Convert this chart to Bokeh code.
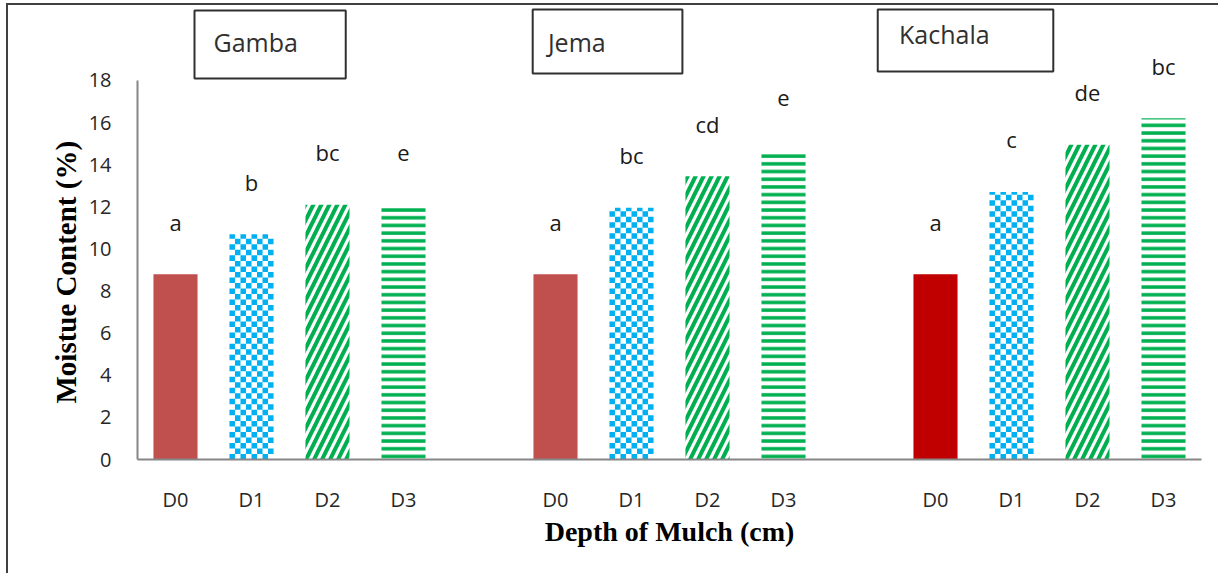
import math
from bokeh.plotting import figure
from bokeh.models import Range1d, FixedTicker, BoxAnnotation, ColumnDataSource
from bokeh.core.properties import value
from bokeh.embed import file_html
from bokeh.resources import INLINE

# ---------------- data ----------------
sites = ["Gamba", "Jema", "Kachala"]
depths = ["D0", "D1", "D2", "D3"]
gamba = [8.8, 10.7, 12.1, 12.05]
jema = [8.8, 11.95, 13.45, 14.65]
kachala = [8.8, 12.7, 14.95, 16.2]
gamba_letters = ["a", "b", "bc", "e"]
jema_letters = ["a", "bc", "cd", "e"]
kachala_letters = ["a", "c", "de", "bc"]
y_ticks = [0, 2, 4, 6, 8, 10, 12, 14, 16, 18]
x_title = "Depth of Mulch (cm)"
y_title = "Moistue Content (%)"

values = [gamba, jema, kachala]
letters = [gamba_letters, jema_letters, kachala_letters]

# ---------------- layout helpers ----------------
SLOTS_PER_GROUP = len(depths) + 1
xs, tops, labs, grp, dep = [], [], [], [], []
for g, (vals, lets) in enumerate(zip(values, letters)):
    for i, (v, l) in enumerate(zip(vals, lets)):
        xs.append(g * SLOTS_PER_GROUP + i + 0.5)
        tops.append(v)
        labs.append(l)
        grp.append(g)
        dep.append(i)

p = figure(width=1212, height=570, output_backend="svg", toolbar_location=None,
           x_range=Range1d(0, SLOTS_PER_GROUP * len(sites) - 1),
           y_range=Range1d(0, 21.56),
           min_border_left=129, min_border_right=19, min_border_top=0,
           min_border_bottom=116, title_location="left")
p.styles = {"border-top": "2px solid #404040", "border-left": "2px solid #404040",
            "margin": "3px 0px 0px 6px"}
p.outline_line_color = None
p.xgrid.grid_line_color = None
p.ygrid.grid_line_color = None
p.background_fill_color = "white"
p.border_fill_color = "white"

BAR_W = 0.58
d0_colors = ["#C0504D", "#C0504D", "#C00000"]

for i in range(len(depths)):
    idx = [k for k in range(len(xs)) if dep[k] == i]
    bx = [xs[k] for k in idx]
    bt = [tops[k] for k in idx]
    if i == 0:
        src = ColumnDataSource(dict(x=bx, top=bt, c=[d0_colors[grp[k]] for k in idx]))
        p.vbar(x="x", top="top", width=BAR_W, source=src, fill_color="c", line_color=None)
    elif i == 1:
        # checkerboard texture built from each bar's value
        NC = 8
        cw = BAR_W / NC
        ch = 0.262
        L, R, B, T = [], [], [], []
        for x, t in zip(bx, bt):
            nrows = math.ceil(t / ch)
            for r in range(nrows):
                for c in range(NC):
                    if (r + c) % 2 == 0:
                        L.append(x - BAR_W / 2 + c * cw)
                        R.append(x - BAR_W / 2 + (c + 1) * cw)
                        B.append(r * ch)
                        T.append(min((r + 1) * ch, t))
        p.quad(left=L, right=R, bottom=B, top=T, fill_color="#00B0F0", line_color=None)
    elif i == 2:
        p.vbar(x=bx, top=bt, width=BAR_W, fill_color="white", line_color=None,
               hatch_pattern="right_diagonal_line", hatch_color="#00B050",
               hatch_scale=16, hatch_weight=4)
    else:
        p.vbar(x=bx, top=bt, width=BAR_W, fill_color="white", line_color=None,
               hatch_pattern="horizontal_line", hatch_color="#00B050",
               hatch_scale=7.7, hatch_weight=3.5)

# significance letters
LETTER_OFFSET = 2.5
p.text(x=xs, y=[t + LETTER_OFFSET for t in tops], text=labs,
       text_font=value("Open Sans"), text_font_size="22px", text_color="#1a1a1a",
       text_align="center", text_baseline="middle")

# site boxes
box_specs = [(0.75, 2.74, 21.32, 18.09, 1.0, 19.85),
             (5.2, 7.17, 21.37, 18.33, 5.4, 19.85),
             (9.74, 12.05, 21.37, 18.42, 10.02, 20.2)]
for name, (l, r, t, b, tx, ty) in zip(sites, box_specs):
    p.add_layout(BoxAnnotation(left=l, right=r, top=t, bottom=b, fill_alpha=0,
                               line_color="#303030", line_alpha=1, line_width=2))
    p.text(x=[tx], y=[ty], text=[name], text_font=value("Open Sans"),
           text_font_size="25px", text_color="#303030", text_align="left",
           text_baseline="middle")

# axes
p.xaxis.ticker = FixedTicker(ticks=xs)
p.xaxis.major_label_overrides = {x: depths[d] for x, d in zip(xs, dep)}
p.yaxis.ticker = FixedTicker(ticks=y_ticks)
p.yaxis.bounds = (0, 18)
for ax in (p.xaxis, p.yaxis):
    ax.axis_line_color = "#868686"
    ax.axis_line_width = 2
    ax.major_tick_line_color = None
    ax.minor_tick_line_color = None
    ax.major_label_text_font = "Open Sans"
    ax.major_label_text_font_size = "20px"
    ax.major_label_text_color = "#262626"
    ax.axis_label_text_font = "Liberation Serif"
    ax.axis_label_text_font_style = "bold"
    ax.axis_label_text_font_size = "28px"
    ax.axis_label_text_color = "black"
p.xaxis.axis_label = x_title
p.xaxis.major_label_standoff = 20
p.xaxis.axis_label_standoff = 0
p.yaxis.major_label_standoff = 20

# y title (as a left-side title, positioned along the 0-18 axis span)
p.title.text = y_title
p.title.align = "left"
p.title.offset = 56
p.title.standoff = 8
p.title.text_font = "Liberation Serif"
p.title.text_font_style = "bold"
p.title.text_font_size = "29px"
p.title.text_color = "black"

open("out.html", "w").write(file_html(p, INLINE))
